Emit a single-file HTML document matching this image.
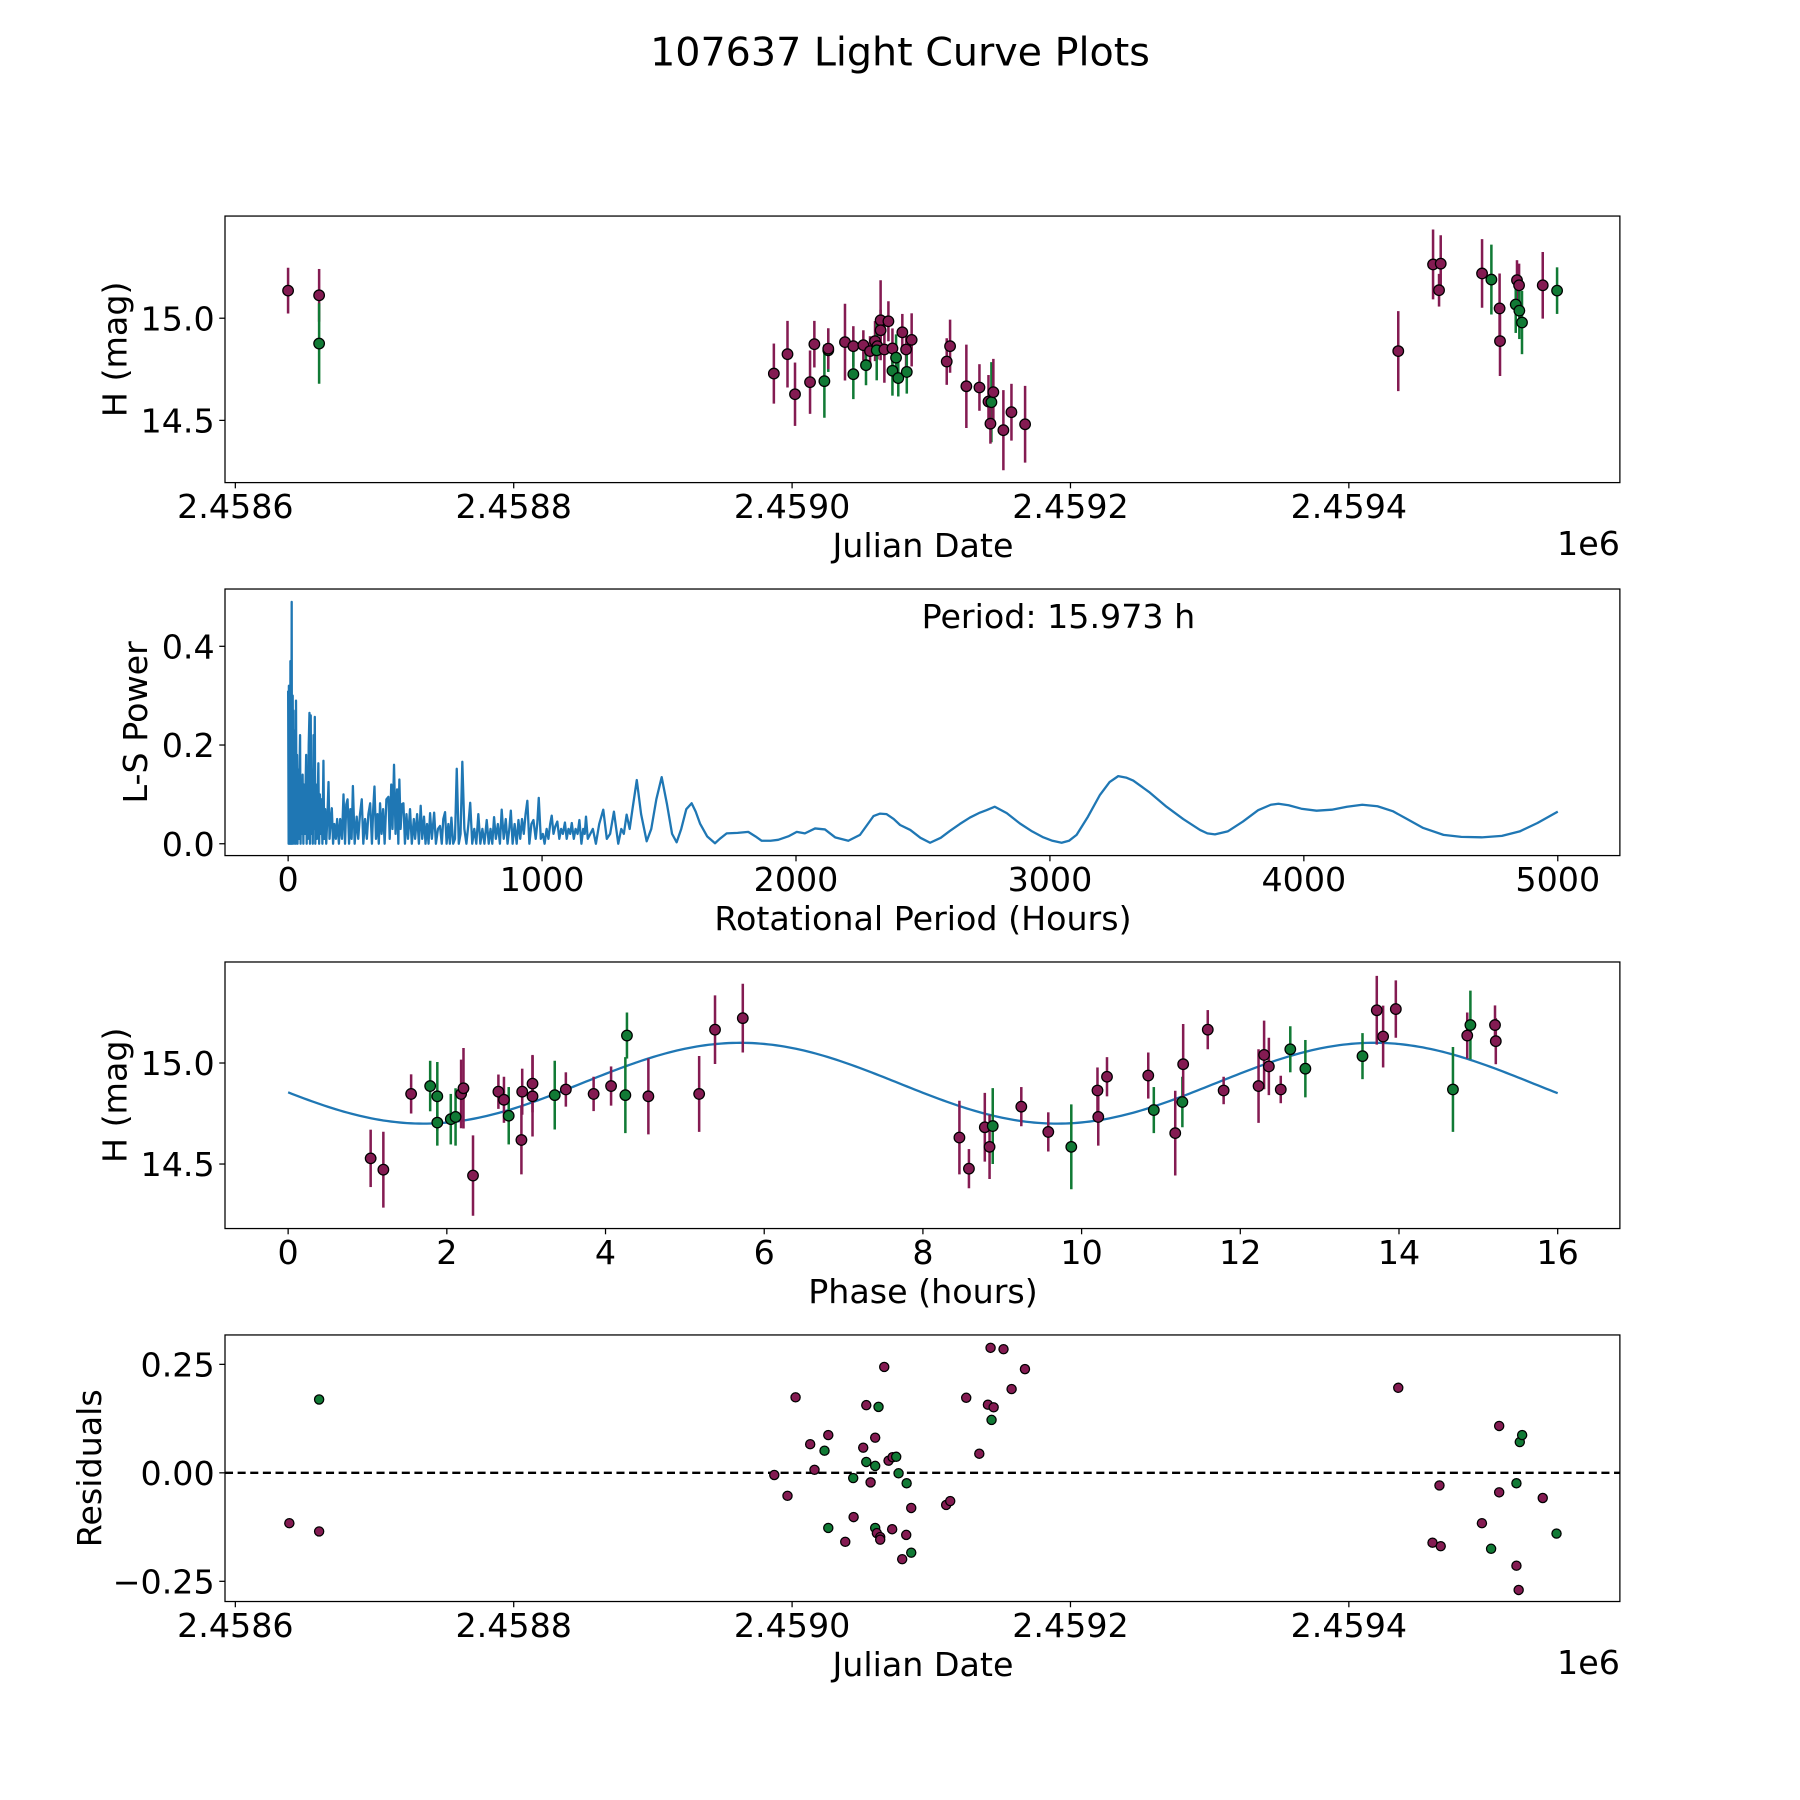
<!DOCTYPE html>
<html><head><meta charset="utf-8"><style>
html,body{margin:0;padding:0;background:#fff;}
svg{display:block;font-family:"DejaVu Sans","Liberation Sans",sans-serif;}
</style></head><body>
<svg id="fig" width="1800" height="1800" viewBox="0 0 1568 1568" xmlns="http://www.w3.org/2000/svg">
<rect width="1568" height="1568" fill="#fff"/>
<text x="784" y="57" font-size="34.5" text-anchor="middle">107637 Light Curve Plots</text>
<g id="plots"></g>
</svg>
<script>
// ---------- data ----------
const MAROON = '#841b52', GREEN = '#117a35';
// Panel 1: observations (JD offset from 2458600, H mag, error, filter)
const obsDay = [37.9,60.2,60.2,386.9,396.7,402.1,412.9,416.0,423.2,426.0,426.0,438.0,444.0,444.0,451.2,453.1,456.0,459.6,461.3,460.8,463.6,463.6,469.2,466.3,472.1,474.7,472.1,476.3,479.2,481.9,482.4,485.9,511.1,513.5,525.2,534.6,541.1,543.2,544.6,542.5,551.8,557.6,567.4,835.5,860.5,866.0,864.8,895.7,902.4,908.3,908.6,920.8,922.3,919.9,922.5,924.4,939.3,949.6];
const obsMag = [15.135,15.112,14.876,14.729,14.824,14.628,14.687,14.873,14.692,14.843,14.851,14.883,14.863,14.726,14.868,14.770,14.839,14.888,14.863,14.843,14.990,14.941,14.985,14.847,14.852,14.807,14.743,14.707,14.931,14.847,14.737,14.894,14.788,14.863,14.667,14.661,14.592,14.589,14.638,14.484,14.452,14.540,14.481,14.839,15.263,15.267,15.137,15.219,15.189,15.048,14.888,15.186,15.161,15.067,15.037,14.979,15.161,15.135];
const obsErr = [0.112,0.129,0.197,0.147,0.163,0.155,0.155,0.114,0.179,0.106,0.1,0.188,0.098,0.122,0.073,0.098,0.073,0.098,0.065,0.147,0.196,0.1,0.098,0.163,0.098,0.114,0.122,0.09,0.09,0.098,0.106,0.13,0.114,0.13,0.204,0.114,0.13,0.196,0.163,0.098,0.196,0.139,0.188,0.196,0.171,0.139,0.08,0.168,0.171,0.171,0.171,0.098,0.106,0.139,0.139,0.155,0.163,0.114];
const obsBand = ['m','m','g','m','m','m','m','m','g','g','m','m','m','g','m','g','m','m','m','g','m','m','m','m','m','g','g','g','m','m','g','m','m','m','m','m','m','g','m','m','m','m','m','m','m','m','m','m','g','m','m','m','m','g','g','g','m','g'];
const jdTicks = [0,200,400,600,800];
const jdTickLabels = ['2.4586','2.4588','2.4590','2.4592','2.4594'];
const magTicks = [14.5,15.0];
const magTickLabels = ['14.5','15.0'];

// Panel 2: Lomb-Scargle periodogram
const pgPeriod = [0,2,3,5,6,8,9,11,12,14,
15,17,18,20,21,23,24,26,28,30,
31,33,35,37,40,42,44,47,49,52,
55,57,60,62,65,68,71,73,76,78,
81,84,86,89,91,94,97,100,102,105,
107,110,113,116,119,122,125,128,131,135,
139,142,146,150,155,159,163,168,172,177,
182,188,193,200,205,212,218,224,229,234,
240,245,250,255,262,270,276,283,290,296,
303,310,316,323,330,335,340,346,352,357,
362,368,374,380,387,395,400,406,411,417,
423,429,434,438,443,448,454,460,466,472,
480,487,495,500,508,515,522,528,535,541,
547,553,559,566,575,582,590,598,605,611,
618,624,631,637,643,650,657,664,672,679,
686,694,702,710,717,725,733,741,749,757,
765,773,782,790,797,804,811,818,826,834,
841,849,857,864,871,877,884,892,900,907,
914,921,928,935,942,950,958,966,975,981,
987,995,1003,1010,1018,1025,1032,1038,1045,1052,
1060,1068,1075,1082,1090,1097,1104,1111,1117,1125,
1132,1140,1147,1155,1162,1168,1173,1180,1190,1200,
1212,1225,1241,1255,1268,1283,1300,1312,1322,1333,
1345,1356,1373,1390,1412,1430,1450,1471,1492,1512,
1530,1548,1568,1589,1605,1622,1650,1681,1700,1727,
1770,1812,1840,1865,1900,1930,1970,2003,2035,2075,
2114,2154,2206,2252,2280,2305,2330,2357,2385,2410,
2450,2490,2528,2570,2606,2645,2685,2724,2750,2783,
2830,2882,2930,2974,3010,3046,3075,3105,3150,3197,
3235,3269,3300,3328,3390,3459,3525,3591,3620,3650,
3700,3760,3820,3870,3900,3940,3990,4050,4110,4170,
4230,4290,4350,4400,4470,4550,4620,4700,4780,4850,
4920,5000];
const pgPower = [0.31,0.0,0.32,0.02,0.30,0.0,0.37,0.05,0.0,0.49,
0.01,0.0,0.30,0.03,0.27,0.0,0.23,0.01,0.2,0.0,
0.29,0.02,0.18,0.0,0.15,0.01,0.12,0.22,0.0,0.13,
0.02,0.14,0.0,0.12,0.02,0.1,0.18,0.0,0.15,0.01,
0.2,0.265,0.0,0.26,0.02,0.15,0.0,0.22,0.03,0.257,
0.0,0.12,0.01,0.08,0.163,0.0,0.1,0.02,0.09,0.0,
0.168,0.01,0.07,0.0,0.06,0.125,0.01,0.05,0.072,0.0,
0.04,0.01,0.05,0.0,0.05,0.01,0.10,0.0,0.08,0.09,
0.0,0.07,0.01,0.117,0.0,0.055,0.01,0.06,0.09,0.0,
0.05,0.01,0.06,0.082,0.0,0.07,0.116,0.01,0.06,0.0,
0.082,0.02,0.07,0.0,0.09,0.095,0.01,0.12,0.03,0.16,
0.02,0.11,0.0,0.13,0.03,0.08,0.082,0.0,0.06,0.01,
0.07,0.0,0.05,0.01,0.06,0.0,0.077,0.01,0.055,0.0,
0.04,0.0,0.062,0.01,0.063,0.0,0.03,0.036,0.0,0.05,
0.064,0.0,0.04,0.0,0.053,0.0,0.01,0.152,0.0,0.02,
0.166,0.03,0.0,0.04,0.083,0.0,0.03,0.0,0.06,0.0,
0.03,0.0,0.048,0.0,0.03,0.0,0.054,0.01,0.04,0.0,
0.069,0.01,0.05,0.0,0.03,0.067,0.0,0.04,0.0,0.048,
0.01,0.05,0.02,0.06,0.087,0.0,0.04,0.048,0.01,0.04,
0.093,0.01,0.02,0.0,0.03,0.01,0.04,0.057,0.02,0.035,
0.045,0.01,0.03,0.02,0.043,0.01,0.03,0.02,0.042,0.01,
0.03,0.02,0.048,0.0,0.03,0.02,0.055,0.01,0.02,0.03,
0.0,0.04,0.069,0.01,0.02,0.065,0.0,0.03,0.02,0.059,
0.03,0.07,0.129,0.06,0.005,0.03,0.09,0.135,0.08,0.02,
0.003,0.03,0.07,0.082,0.065,0.041,0.015,0.001,0.01,0.021,
0.022,0.024,0.015,0.006,0.006,0.008,0.015,0.024,0.021,0.031,
0.029,0.013,0.006,0.018,0.038,0.056,0.061,0.06,0.05,0.038,
0.028,0.012,0.002,0.012,0.026,0.04,0.053,0.063,0.068,0.075,
0.062,0.041,0.025,0.013,0.006,0.002,0.006,0.018,0.055,0.099,
0.125,0.137,0.134,0.128,0.105,0.075,0.05,0.028,0.021,0.019,
0.025,0.045,0.068,0.079,0.081,0.078,0.071,0.067,0.069,0.075,
0.079,0.076,0.066,0.052,0.032,0.018,0.014,0.013,0.016,0.025,
0.042,0.065];
const pgXTicks = [0,1000,2000,3000,4000,5000];
const pgYTicks = [0.0,0.2,0.4];
const pgYTickLabels = ['0.0','0.2','0.4'];
const periodLabel = 'Period: 15.973 h';

// Panel 3: phased light curve
const phase = [1.04,1.20,1.55,1.79,1.88,1.88,2.05,2.11,2.18,2.21,2.33,2.65,2.72,2.78,2.94,2.95,3.08,3.08,3.36,3.50,3.85,4.07,4.25,4.27,4.54,5.18,5.38,5.73,
8.46,8.58,8.78,8.84,8.88,9.24,9.58,9.87,10.20,10.21,10.32,10.84,10.91,11.18,11.27,11.28,11.59,11.79,12.23,12.30,12.36,12.51,12.63,12.82,13.54,13.72,13.80,13.96,14.68,14.86,14.90,15.21,15.22];
const phaseMag = [14.528,14.472,14.847,14.886,14.835,14.705,14.722,14.733,14.847,14.875,14.443,14.858,14.818,14.739,14.619,14.858,14.898,14.835,14.841,14.869,14.847,14.886,14.841,15.136,14.835,14.847,15.165,15.222,
14.631,14.477,14.682,14.585,14.688,14.784,14.659,14.585,14.864,14.733,14.932,14.938,14.767,14.653,14.807,14.994,15.165,14.864,14.886,15.040,14.983,14.869,15.068,14.972,15.034,15.261,15.131,15.267,14.869,15.136,15.188,15.188,15.108];
const phaseErr = [0.142,0.188,0.097,0.125,0.17,0.114,0.125,0.142,0.17,0.199,0.199,0.085,0.114,0.142,0.17,0.114,0.142,0.199,0.17,0.085,0.085,0.097,0.188,0.114,0.188,0.188,0.17,0.17,
0.182,0.097,0.17,0.159,0.188,0.097,0.097,0.21,0.114,0.142,0.097,0.114,0.114,0.21,0.125,0.199,0.097,0.068,0.182,0.17,0.142,0.068,0.114,0.142,0.114,0.17,0.153,0.142,0.21,0.114,0.17,0.097,0.114];
const phaseBand = ['m','m','m','g','g','g','g','g','m','m','m','m','m','g','m','m','m','m','g','m','m','m','g','g','m','m','m','m',
'm','m','m','m','g','m','m','g','m','m','m','m','g','m','g','m','m','m','m','m','m','m','g','g','g','m','m','m','g','m','g','m','m'];
const phaseTicks = [0,2,4,6,8,10,12,14,16];
const fitMean = 14.90, fitAmp = 0.20, fitPeriod = 7.9865, fitPeak = 5.7;

// Panel 4: residuals
const resDay = [38.8,60.2,60.2,387.2,396.7,402.5,413.0,416.1,423.3,426.0,426.0,438.2,444.2,443.9,451.1,453.3,453.3,456.4,459.7,459.7,462.1,459.7,460.9,463.3,463.3,466.2,469.3,472.2,474.8,476.5,471.9,482.3,482.0,485.6,479.1,485.6,510.7,513.6,525.1,534.5,540.7,544.8,543.3,542.6,551.9,557.7,567.3,
835.5,860.1,866.0,865.1,895.6,902.2,908.0,908.0,920.4,922.0,920.4,922.8,924.5,939.3,949.2];
const resVal = [-0.116,0.169,-0.135,-0.005,-0.053,0.174,0.066,0.007,0.051,0.087,-0.127,-0.159,-0.102,-0.012,0.058,0.156,0.025,-0.022,0.081,0.016,0.152,-0.127,-0.139,-0.148,-0.154,0.244,0.028,0.036,0.037,-0.001,-0.130,-0.024,-0.143,-0.081,-0.199,-0.184,-0.074,-0.065,0.173,0.044,0.157,0.151,0.122,0.288,0.285,0.193,0.239,
0.196,-0.161,-0.169,-0.029,-0.116,-0.175,0.108,-0.045,-0.214,-0.270,-0.024,0.071,0.087,-0.058,-0.140];
const resBand = ['m','g','m','m','m','m','m','m','g','m','g','m','m','g','m','m','g','m','m','g','g','g','m','m','m','m','m','m','g','g','m','g','m','m','m','g','m','m','m','m','m','m','g','m','m','m','m',
'm','m','m','m','m','g','m','m','m','m','g','g','g','m','g'];
const resTicks = [-0.25,0,0.25];
const resTickLabels = ['\u22120.25','0.00','0.25'];

// ---------- layout ----------
const NS = 'http://www.w3.org/2000/svg';
const L = 196, R = 1411.1, H = 232.2;
const TOPS = [188.2, 513.1, 838.0, 1162.9];
const plots = document.getElementById('plots');
function mk(tag, attrs, parent, text){
  const e = document.createElementNS(NS, tag);
  for (const k in attrs) e.setAttribute(k, attrs[k]);
  if (text !== undefined) e.textContent = text;
  (parent || plots).appendChild(e);
  return e;
}
const xJD = d => 205 + d * 1.2125;
const yMag = (top) => m => top + 89 - (m - 15) * 178;
const xPg = p => 251 + p * 0.2212;
const yPg = v => 735 - v * 430;
const xPh = p => 251 + p * 69.12;
const yPh = m => 926 - (m - 15) * 176;
const yRes = r => 1283 - r * 378;

function frame(i, name){
  const g = mk('g', {});
  
  
  const r = mk('rect', {x:L, y:TOPS[i], width:R-L, height:H, fill:'none', stroke:'#000', 'stroke-width':1.1}, g);
  
  
  return g;
}
function xTicks(g, i, vals, labels, fx, name){
  const b = TOPS[i] + H;
  vals.forEach((v, k) => {
    const x = fx(v);
    const t = mk('line', {x1:x, x2:x, y1:b, y2:b+5, stroke:'#000', 'stroke-width':1.1}, g);
    
    
    const tl = mk('text', {x:x, y:b+31, 'font-size':29, 'text-anchor':'middle'}, g, labels[k]);
    
    
  });
}
function yTicks(g, vals, labels, fy, name){
  vals.forEach((v, k) => {
    const y = fy(v);
    const t = mk('line', {x1:L-5, x2:L, y1:y, y2:y, stroke:'#000', 'stroke-width':1.1}, g);
    
    
    const tl = mk('text', {x:L-9, y:y+10.5, 'font-size':29, 'text-anchor':'end'}, g, labels[k]);
    
    
  });
}
function label(g, text, x, y, rot, name){
  const t = mk('text', {x:x, y:y, 'font-size':29, 'text-anchor':'middle', transform: rot ? `rotate(-90 ${x} ${y})` : ''}, g, text);
  
  
}
function point(g, x, y, r, band, name){
  const c = mk('circle', {cx:x, cy:y, r:r, fill: band==='g'?GREEN:MAROON, stroke:'#000', 'stroke-width':1.1}, g);
  
  
}
function errbar(g, x, y1, y2, band){
  const e = mk('line', {x1:x, x2:x, y1:y1, y2:y2, stroke: band==='g'?GREEN:MAROON, 'stroke-width':2.2}, g);
  
  
}

// Panel 1
(function(){
  const g = frame(0, 'light-curve-panel');
  const fy = yMag(TOPS[0]);
  const cl = mk('g', {}, g);
  
  
  obsDay.forEach((d, i) => errbar(cl, xJD(d), fy(obsMag[i]-obsErr[i]), fy(obsMag[i]+obsErr[i]), obsBand[i]));
  obsDay.forEach((d, i) => point(cl, xJD(d), fy(obsMag[i]), 4.6, obsBand[i], 'observation-point'));
  xTicks(g, 0, jdTicks, jdTickLabels, xJD, 'x-axis-jd');
  yTicks(g, magTicks, magTickLabels, fy, 'y-axis-mag');
  label(g, 'Julian Date', 804, TOPS[0]+H+65, false, 'x-axis-title');
  const o = mk('text', {x:R, y:TOPS[0]+H+63, 'font-size':29, 'text-anchor':'end'}, g, '1e6');
  
  
  label(g, 'H (mag)', 110, TOPS[0]+H/2, true, 'y-axis-title');
})();

// Panel 2
(function(){
  const g = frame(1, 'periodogram-panel');
  let d = '';
  pgPeriod.forEach((p, i) => { d += (i ? 'L' : 'M') + xPg(p).toFixed(2) + ' ' + yPg(pgPower[i]).toFixed(2); });
  const path = mk('path', {d:d, fill:'none', stroke:'#1f77b4', 'stroke-width':2, 'stroke-linejoin':'round'}, g);
  
  
  xTicks(g, 1, pgXTicks, pgXTicks.map(String), xPg, 'x-axis-period');
  yTicks(g, pgYTicks, pgYTickLabels, yPg, 'y-axis-power');
  label(g, 'Rotational Period (Hours)', 804, TOPS[1]+H+65, false, 'x-axis-title');
  label(g, 'L-S Power', 128, TOPS[1]+H/2, true, 'y-axis-title');
  const t = mk('text', {x:922, y:547, 'font-size':29, 'text-anchor':'middle'}, g, periodLabel);
  
  
})();

// Panel 3
(function(){
  const g = frame(2, 'phase-panel');
  let d = '';
  for (let k = 0; k <= 320; k++){
    const p = 16 * k / 320;
    const m = fitMean + fitAmp * Math.cos(2*Math.PI*(p - fitPeak)/fitPeriod);
    d += (k ? 'L' : 'M') + xPh(p).toFixed(2) + ' ' + yPh(m).toFixed(2);
  }
  const path = mk('path', {d:d, fill:'none', stroke:'#1f77b4', 'stroke-width':2}, g);
  
  
  const cl = mk('g', {}, g);
  
  
  phase.forEach((p, i) => errbar(cl, xPh(p), yPh(phaseMag[i]-phaseErr[i]), yPh(phaseMag[i]+phaseErr[i]), phaseBand[i]));
  phase.forEach((p, i) => point(cl, xPh(p), yPh(phaseMag[i]), 4.6, phaseBand[i], 'phased-point'));
  xTicks(g, 2, phaseTicks, phaseTicks.map(String), xPh, 'x-axis-phase');
  yTicks(g, magTicks, magTickLabels, yPh, 'y-axis-mag');
  label(g, 'Phase (hours)', 804, TOPS[2]+H+65, false, 'x-axis-title');
  label(g, 'H (mag)', 110, TOPS[2]+H/2, true, 'y-axis-title');
})();

// Panel 4
(function(){
  const g = frame(3, 'residuals-panel');
  const z = mk('line', {x1:L, x2:R, y1:yRes(0), y2:yRes(0), stroke:'#000', 'stroke-width':2, 'stroke-dasharray':'7,4'}, g);
  
  
  const cl = mk('g', {}, g);
  
  
  resDay.forEach((d, i) => point(cl, xJD(d), yRes(resVal[i]), 4.0, resBand[i], 'residual-point'));
  xTicks(g, 3, jdTicks, jdTickLabels, xJD, 'x-axis-jd');
  yTicks(g, resTicks, resTickLabels, yRes, 'y-axis-residual');
  label(g, 'Julian Date', 804, TOPS[3]+H+65, false, 'x-axis-title');
  const o = mk('text', {x:R, y:TOPS[3]+H+63, 'font-size':29, 'text-anchor':'end'}, g, '1e6');
  
  
  label(g, 'Residuals', 88, TOPS[3]+H/2, true, 'y-axis-title');
})();
</script>
</body></html>
